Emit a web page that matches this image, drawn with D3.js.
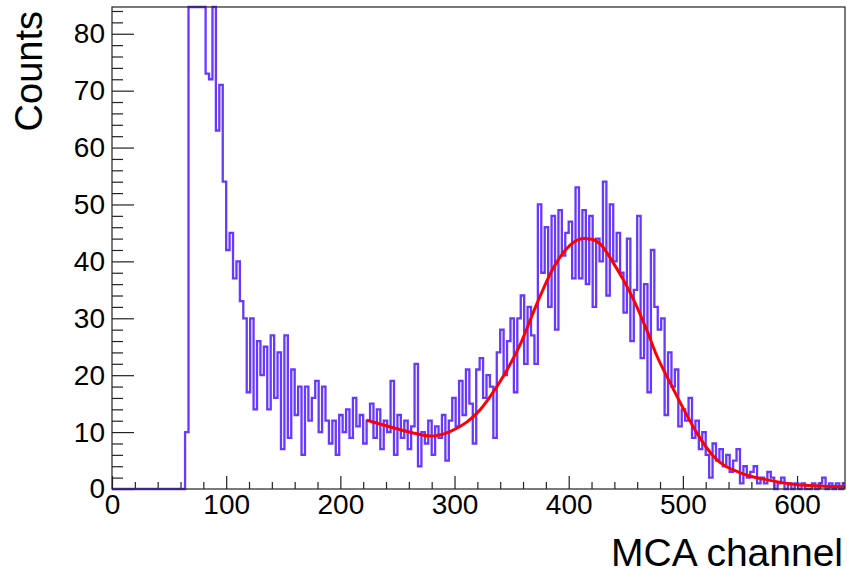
<!DOCTYPE html>
<html>
<head>
<meta charset="utf-8">
<script src="https://cdn.jsdelivr.net/npm/d3@7"></script>
<style>
  body { margin: 0; background: #fff; }
  text { font-family: "Liberation Sans", Arial, Helvetica, sans-serif; }
</style>
</head>
<body>
<div id="viz"></div>
<script>
// histogram: bins of 3 channels starting at channel 1
var binStart = 1;
var binWidth = 3;
var counts = [
  0, 0, 0, 0, 0, 0, 0, 0, 0, 0, 0, 0, 0, 0, 0, 0, 0, 0, 0, 0, 0,
  10, 120, 120, 120, 120, 120, 73, 72, 120, 63, 71, 54, 42, 45, 37, 40, 33,
  30, 17, 30, 14, 26, 20, 25, 14, 27, 16, 24, 7, 27, 9, 21, 13, 18, 6,
  18, 12, 16, 19, 10, 18, 12, 8, 12, 6, 13, 10, 14, 9, 16, 11, 13, 8,
  12, 15, 9, 14, 7, 12, 10, 19, 6, 13, 9, 12, 7, 11, 22, 4, 10, 8,
  12, 6, 11, 9, 13, 5, 12, 16, 11, 19, 13, 21, 15, 8, 21, 23, 16, 20,
  18, 9, 24, 28, 20, 26, 30, 17, 30, 34, 22, 32, 27, 22, 50, 38, 46, 32,
  48, 28, 49, 41, 45, 47, 37, 53, 37, 49, 36, 48, 32, 44, 40, 54, 34, 50,
  40, 45, 38, 31, 44, 26, 35, 48, 23, 36, 17, 42, 32, 28, 30, 13, 24, 18,
  21, 11, 14, 12, 16, 9, 12, 7, 10, 6, 2, 8, 5, 7, 4, 6, 3, 5,
  7, 1, 4, 2, 3, 4, 1, 2, 1, 3, 2, 0, 1, 2, 0, 1, 0, 1,
  0, 1, 0, 0, 1, 0, 1, 2, 0, 1, 0, 1, 0, 1
];

// fitted curve
var fitChannel = [223, 244, 267, 279, 296, 311, 321, 331, 343, 358, 372, 387, 401, 413, 420,
                  428, 437, 448, 457, 469, 477, 489, 501, 513, 527, 551, 574, 603, 642];
var fitValue   = [12.1, 10.9, 9.7, 9.3, 10.1, 11.8, 13.6, 16.2, 19.9, 25.6, 32.5, 39, 42.8, 44.0, 43.9,
                  43.0, 40.4, 36.7, 33.2, 27.6, 23.5, 18.6, 13.9, 9.6, 5.7, 2.8, 1.6, 0.7, 0.4];

var xMajor = [0, 100, 200, 300, 400, 500, 600];
var yMajor = [0, 10, 20, 30, 40, 50, 60, 70, 80];

var width = 847;
var height = 577;
var fLeft = 112, fRight = 845, fTop = 7, fBottom = 489;

var svg = d3.select("#viz")
    .append("svg")
    .attr("width", width)
    .attr("height", height);

var x = d3.scaleLinear().domain([0, 642]).range([fLeft, fRight]);
var y = d3.scaleLinear().domain([0, 84.7]).range([fBottom, fTop]);

var xMinor = d3.range(0, 642, 20).filter(function(d) { return d % 100 != 0; });
var yMinor = d3.range(0, 85, 2).filter(function(d) { return d % 10 != 0; });

// axes (ticks inside the frame, ROOT style)
var gx = svg.append("g").attr("transform", "translate(0," + fBottom + ")");
gx.append("g").call(d3.axisBottom(x).tickValues(xMinor).tickSize(-7).tickFormat(""));
gx.append("g").call(d3.axisBottom(x).tickValues(xMajor).tickSize(-13).tickPadding(5).tickFormat(d3.format("d")));

var gy = svg.append("g").attr("transform", "translate(" + fLeft + ",0)");
gy.append("g").call(d3.axisLeft(y).tickValues(yMinor).tickSize(-11).tickFormat(""));
gy.append("g").call(d3.axisLeft(y).tickValues(yMajor).tickSize(-22).tickPadding(7).tickFormat(d3.format("d")));

svg.selectAll(".domain").remove();
svg.selectAll(".tick line").attr("stroke", "#222").attr("stroke-width", 1.2);
svg.selectAll(".tick text")
    .attr("font-size", 28)
    .attr("fill", "#000")
    .style("font-family", "'Liberation Sans', Arial, sans-serif");

// histogram as a step line, clamped at the frame top
var ymax = y.domain()[1];
var pts = [[0, 0], [binStart, 0]];
counts.forEach(function(c, i) {
  var lo = binStart + i * binWidth;
  var v = Math.min(c, ymax);
  pts.push([lo, v]);
  pts.push([lo + binWidth, v]);
});

var line = d3.line()
    .x(function(d) { return x(Math.min(d[0], 642)); })
    .y(function(d) { return y(d[1]); });

svg.append("path")
    .datum(pts)
    .attr("d", line)
    .attr("fill", "none")
    .attr("stroke", "#5524ff")
    .attr("stroke-width", 2.3)
    .attr("stroke-opacity", 0.9);

// fit
var fitLine = d3.line()
    .x(function(d, i) { return x(fitChannel[i]); })
    .y(function(d) { return y(d); })
    .curve(d3.curveMonotoneX);

svg.append("path")
    .datum(fitValue)
    .attr("d", fitLine)
    .attr("fill", "none")
    .attr("stroke", "#ff0000")
    .attr("stroke-width", 3);

// frame
svg.append("rect")
    .attr("x", fLeft)
    .attr("y", fTop)
    .attr("width", fRight - fLeft)
    .attr("height", fBottom - fTop)
    .attr("fill", "none")
    .attr("stroke", "#222")
    .attr("stroke-width", 1.2);

// titles
svg.append("text")
    .attr("x", 843)
    .attr("y", 566)
    .attr("text-anchor", "end")
    .attr("font-size", 39)
    .text("MCA channel");

svg.append("text")
    .attr("transform", "translate(42,11) rotate(-90)")
    .attr("text-anchor", "end")
    .attr("font-size", 38)
    .text("Counts");
</script>
</body>
</html>
